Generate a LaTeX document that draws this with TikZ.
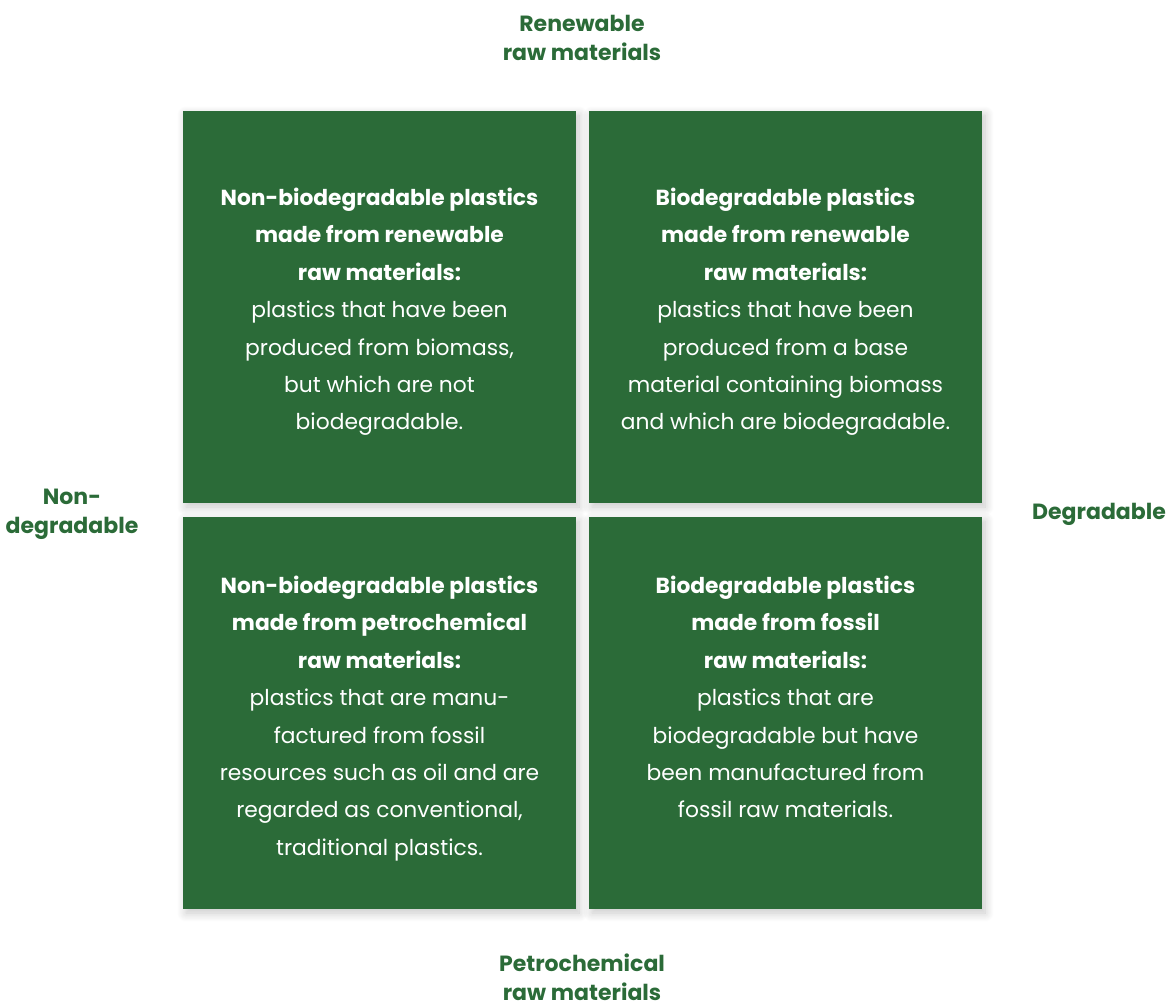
\documentclass[tikz,border=0pt]{standalone}
\usepackage{fontspec}
\setmainfont{Poppins}
\usepackage{xcolor}
\usepackage{tikz}
\usetikzlibrary{positioning, shadows.blur}

\definecolor{leaf}{HTML}{2B6B38}

\begin{document}
\begin{tikzpicture}[x=1pt, y=-1pt,
    plate/.style={fill=leaf, minimum width=393pt, minimum height=392pt, inner sep=0pt,
        blur shadow={shadow xshift=3pt, shadow yshift=-4pt, shadow blur radius=9pt,
                     shadow blur steps=12, shadow opacity=22}},
    blurb/.style={text=white, align=center, inner sep=0pt, anchor=north,
        font=\fontsize{21.8}{37.4}\selectfont},
    axis/.style={text=leaf, align=center, inner sep=0pt,
        font=\bfseries\fontsize{22}{29}\selectfont}]
    \useasboundingbox (0,0) rectangle (1168,1006);

    % 1. Vier Felder
    \node[plate] (tl) at (379.5,307) {};
    \node[plate] (tr) at (785.5,307) {};
    \node[plate] (bl) at (379.5,713) {};
    \node[plate] (br) at (785.5,713) {};

    % 2. Texte in den Feldern
    \node[blurb, below=77pt of tl.north] (tltext) {%
        \textbf{Non-biodegradable plastics}\\\textbf{made from renewable}\\\textbf{raw materials:}\\
        plastics that have been\\produced from biomass,\\but which are not\\biodegradable.};
    \node[blurb, below=77pt of tr.north] (trtext) {%
        \textbf{Biodegradable plastics}\\\textbf{made from renewable}\\\textbf{raw materials:}\\
        plastics that have been\\produced from a base\\material containing biomass\\and which are biodegradable.};
    \node[blurb, below=59pt of bl.north] (bltext) {%
        \textbf{Non-biodegradable plastics}\\\textbf{made from petrochemical}\\\textbf{raw materials:}\\
        plastics that are manu-\\factured from fossil\\resources such as oil and are\\regarded as conventional,\\traditional plastics.};
    \node[blurb, below=59pt of br.north] (brtext) {%
        \textbf{Biodegradable plastics}\\\textbf{made from fossil}\\\textbf{raw materials:}\\
        plastics that are\\biodegradable but have\\been manufactured from\\fossil raw materials.};

    % 3. Achsenbeschriftungen
    \node[axis] (renew) at (582,38) {Renewable\\raw materials};
    \node[axis] (petro) at (582,977) {Petrochemical\\raw materials};
    \node[axis] (nondeg) at (72,514) {Non-\\degradable};
    \node[axis] (deg) at (1099,514) {Degradable};
\end{tikzpicture}
\end{document}
